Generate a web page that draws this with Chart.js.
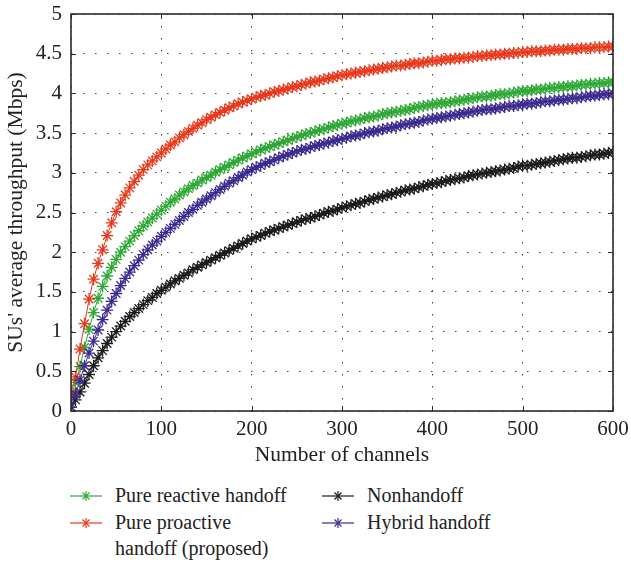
<!DOCTYPE html>
<html>
<head>
<meta charset="utf-8">
<script src="https://cdn.jsdelivr.net/npm/chart.js@4/dist/chart.umd.min.js"></script>
<style>
  html, body { margin: 0; padding: 0; background: #fff; }
  #wrap { position: relative; width: 631px; height: 565px; font-family: "Liberation Serif", "DejaVu Serif", serif; color: #222; }
  #chartBox { position: absolute; left: 0; top: 0; width: 631px; height: 470px; }
  .leg-sym { position: absolute; }
  .leg-text { position: absolute; font-size: 20px; line-height: 26px; white-space: nowrap; }
</style>
</head>
<body>
<div id="wrap">
  <div id="chartBox"><canvas id="chart" width="631" height="470"></canvas></div>
  <div id="legend"></div>
</div>
<script>
// number of channels (x positions of the markers)
const channels = [
  0, 5, 10, 15, 20, 25, 30, 35, 40, 45, 50, 55, 60, 65, 70, 75, 80, 85, 90, 95, 100,
  105, 110, 115, 120, 125, 130, 135, 140, 145, 150, 155, 160, 165, 170, 175, 180, 185, 190, 195, 200,
  205, 210, 215, 220, 225, 230, 235, 240, 245, 250, 255, 260, 265, 270, 275, 280, 285, 290, 295, 300,
  305, 310, 315, 320, 325, 330, 335, 340, 345, 350, 355, 360, 365, 370, 375, 380, 385, 390, 395, 400,
  405, 410, 415, 420, 425, 430, 435, 440, 445, 450, 455, 460, 465, 470, 475, 480, 485, 490, 495, 500,
  505, 510, 515, 520, 525, 530, 535, 540, 545, 550, 555, 560, 565, 570, 575, 580, 585, 590, 595, 600
];

// Pure reactive handoff
const reactive = [
  0.18, 0.36, 0.56, 0.80, 1.03, 1.24, 1.42, 1.57, 1.70, 1.81, 1.91, 2.00, 2.07, 2.14, 2.21, 2.27, 2.33, 2.38, 2.43, 2.48, 2.53,
  2.58, 2.63, 2.67, 2.72, 2.76, 2.80, 2.84, 2.87, 2.91, 2.94, 2.97, 3.01, 3.04, 3.07, 3.10, 3.13, 3.16, 3.19, 3.21, 3.24,
  3.26, 3.29, 3.31, 3.33, 3.35, 3.37, 3.39, 3.41, 3.43, 3.45, 3.47, 3.49, 3.50, 3.52, 3.54, 3.55, 3.57, 3.59, 3.60, 3.62,
  3.63, 3.65, 3.66, 3.67, 3.69, 3.70, 3.71, 3.72, 3.74, 3.75, 3.76, 3.77, 3.78, 3.79, 3.80, 3.82, 3.83, 3.84, 3.85, 3.86,
  3.87, 3.88, 3.88, 3.89, 3.90, 3.91, 3.92, 3.93, 3.94, 3.95, 3.96, 3.96, 3.97, 3.98, 3.99, 3.99, 4.00, 4.01, 4.02, 4.03,
  4.03, 4.04, 4.05, 4.05, 4.06, 4.07, 4.07, 4.08, 4.08, 4.09, 4.09, 4.10, 4.11, 4.11, 4.12, 4.12, 4.13, 4.13, 4.14, 4.14
];

// Pure proactive handoff (proposed)
const proactive = [
  0.22, 0.43, 0.78, 1.10, 1.41, 1.66, 1.86, 2.03, 2.21, 2.37, 2.51, 2.62, 2.72, 2.81, 2.89, 2.97, 3.04, 3.10, 3.15, 3.20, 3.25,
  3.30, 3.35, 3.39, 3.44, 3.48, 3.52, 3.56, 3.60, 3.63, 3.67, 3.70, 3.73, 3.76, 3.79, 3.82, 3.84, 3.87, 3.89, 3.91, 3.93,
  3.95, 3.97, 3.98, 4.00, 4.02, 4.03, 4.05, 4.06, 4.08, 4.09, 4.11, 4.12, 4.14, 4.15, 4.16, 4.18, 4.19, 4.20, 4.22, 4.23,
  4.24, 4.25, 4.26, 4.27, 4.28, 4.29, 4.30, 4.31, 4.32, 4.33, 4.34, 4.35, 4.35, 4.36, 4.37, 4.38, 4.38, 4.39, 4.40, 4.41,
  4.41, 4.42, 4.43, 4.43, 4.44, 4.44, 4.45, 4.45, 4.46, 4.47, 4.47, 4.48, 4.48, 4.49, 4.49, 4.50, 4.50, 4.51, 4.51, 4.52,
  4.52, 4.53, 4.53, 4.53, 4.54, 4.54, 4.55, 4.55, 4.55, 4.56, 4.56, 4.56, 4.57, 4.57, 4.57, 4.58, 4.58, 4.58, 4.59, 4.59
];

// Nonhandoff
const nonhandoff = [
  0.05, 0.14, 0.24, 0.35, 0.46, 0.57, 0.67, 0.76, 0.85, 0.93, 1.00, 1.07, 1.13, 1.19, 1.24, 1.29, 1.34, 1.39, 1.43, 1.48, 1.52,
  1.56, 1.60, 1.64, 1.67, 1.71, 1.74, 1.78, 1.81, 1.84, 1.87, 1.90, 1.93, 1.96, 1.99, 2.02, 2.05, 2.08, 2.11, 2.14, 2.17,
  2.19, 2.21, 2.24, 2.26, 2.28, 2.30, 2.32, 2.34, 2.36, 2.38, 2.40, 2.42, 2.43, 2.45, 2.47, 2.49, 2.51, 2.52, 2.54, 2.56,
  2.58, 2.59, 2.61, 2.62, 2.64, 2.66, 2.67, 2.69, 2.70, 2.72, 2.73, 2.75, 2.76, 2.78, 2.79, 2.80, 2.82, 2.83, 2.85, 2.86,
  2.87, 2.88, 2.90, 2.91, 2.92, 2.93, 2.94, 2.96, 2.97, 2.98, 2.99, 3.00, 3.01, 3.02, 3.03, 3.04, 3.05, 3.06, 3.08, 3.09,
  3.09, 3.10, 3.11, 3.12, 3.13, 3.14, 3.15, 3.16, 3.17, 3.18, 3.19, 3.19, 3.20, 3.21, 3.22, 3.23, 3.23, 3.24, 3.25, 3.26
];

// Hybrid handoff
const hybrid = [
  0.05, 0.21, 0.39, 0.57, 0.73, 0.88, 1.02, 1.15, 1.27, 1.38, 1.48, 1.58, 1.67, 1.75, 1.83, 1.90, 1.97, 2.03, 2.09, 2.14, 2.20,
  2.25, 2.30, 2.35, 2.40, 2.45, 2.50, 2.54, 2.59, 2.63, 2.67, 2.71, 2.75, 2.79, 2.83, 2.87, 2.90, 2.94, 2.97, 3.01, 3.04,
  3.07, 3.09, 3.12, 3.14, 3.16, 3.19, 3.21, 3.23, 3.25, 3.27, 3.29, 3.30, 3.32, 3.34, 3.35, 3.37, 3.38, 3.40, 3.41, 3.43,
  3.44, 3.46, 3.47, 3.48, 3.50, 3.51, 3.52, 3.53, 3.55, 3.56, 3.57, 3.58, 3.60, 3.61, 3.62, 3.63, 3.64, 3.66, 3.67, 3.68,
  3.69, 3.70, 3.71, 3.72, 3.73, 3.74, 3.75, 3.76, 3.77, 3.78, 3.79, 3.80, 3.80, 3.81, 3.82, 3.83, 3.84, 3.84, 3.85, 3.86,
  3.87, 3.87, 3.88, 3.89, 3.90, 3.90, 3.91, 3.92, 3.92, 3.93, 3.94, 3.94, 3.95, 3.96, 3.97, 3.97, 3.98, 3.99, 3.99, 4.00
];

const xTicks = [0, 100, 200, 300, 400, 500, 600];
const yTicks = [0, 0.5, 1, 1.5, 2, 2.5, 3, 3.5, 4, 4.5, 5];

const seriesNames = ['Pure reactive handoff', 'Pure proactive handoff (proposed)', 'Nonhandoff', 'Hybrid handoff'];
const seriesColors = ['#2fa836', '#e8391d', '#1b1b1b', '#3c2a8e'];

const FONT = '"Liberation Serif", "DejaVu Serif", serif';

function toPoints(ys) {
    return channels.map((c, i) => ({ x: c, y: ys[i] }));
}

function makeSet(idx, ys, order) {
    return {
        label: seriesNames[idx],
        data: toPoints(ys),
        borderColor: seriesColors[idx],
        backgroundColor: seriesColors[idx],
        borderWidth: 1,
        pointStyle: 'star',
        pointRadius: 6,
        pointBorderWidth: 1.3,
        pointBorderColor: seriesColors[idx],
        pointHoverRadius: 6,
        fill: false,
        tension: 0,
        order: order
    };
}

// box around plot + inward tick marks (MATLAB look)
const boxPlugin = {
    id: 'boxTicks',
    afterDraw(chart) {
        const { ctx, chartArea: { left, right, top, bottom } } = chart;
        const xs = chart.scales.x, ys = chart.scales.y;
        ctx.save();
        ctx.strokeStyle = '#2b2b2b';
        ctx.lineWidth = 1.6;
        ctx.strokeRect(left, top, right - left, bottom - top);
        ctx.lineWidth = 1;
        ctx.beginPath();
        xTicks.forEach(v => {
            const px = Math.round(xs.getPixelForValue(v)) + 0.5;
            ctx.moveTo(px, bottom); ctx.lineTo(px, bottom - 5);
            ctx.moveTo(px, top); ctx.lineTo(px, top + 5);
        });
        yTicks.forEach(v => {
            const py = Math.round(ys.getPixelForValue(v)) + 0.5;
            ctx.moveTo(left, py); ctx.lineTo(left + 5, py);
            ctx.moveTo(right, py); ctx.lineTo(right - 5, py);
        });
        ctx.stroke();
        ctx.restore();
    }
};

const ctx = document.getElementById('chart').getContext('2d');
const chart = new Chart(ctx, {
    type: 'line',
    data: {
        datasets: [
            makeSet(3, hybrid, 0),
            makeSet(2, nonhandoff, 1),
            makeSet(1, proactive, 2),
            makeSet(0, reactive, 3)
        ]
    },
    options: {
        responsive: false,
        animation: false,
        events: [],
        layout: { padding: { top: 14, right: 18, left: 0, bottom: 0 } },
        plugins: {
            legend: { display: false },
            tooltip: { enabled: false }
        },
        scales: {
            x: {
                type: 'linear',
                min: 0,
                max: 600,
                afterBuildTicks(scale) { scale.ticks = xTicks.map(v => ({ value: v })); },
                afterFit(scale) {
                    scale.height = 59;
                    scale.paddingLeft = 0;
                    scale.paddingRight = 0;
                },
                ticks: {
                    color: '#222',
                    padding: 6,
                    maxRotation: 0,
                    font: { family: FONT, size: 21 },
                    callback: v => String(v)
                },
                grid: {
                    color: '#444',
                    lineWidth: 1,
                    drawTicks: false
                },
                border: { display: false, dash: [1.5, 10.5] },
                title: {
                    display: true,
                    text: 'Number of channels',
                    color: '#222',
                    font: { family: FONT, size: 21.5 },
                    padding: { top: 0, bottom: 2 }
                }
            },
            y: {
                min: 0,
                max: 5,
                afterBuildTicks(scale) { scale.ticks = yTicks.map(v => ({ value: v })); },
                afterFit(scale) {
                    scale.width = 71;
                    scale.paddingTop = 0;
                    scale.paddingBottom = 0;
                },
                ticks: {
                    color: '#222',
                    padding: 9,
                    font: { family: FONT, size: 21 },
                    callback: v => String(v)
                },
                grid: {
                    color: '#444',
                    lineWidth: 1,
                    drawTicks: false
                },
                border: { display: false, dash: [1.5, 10.5] },
                title: {
                    display: true,
                    text: "SUs' average throughput (Mbps)",
                    color: '#222',
                    font: { family: FONT, size: 21.5 },
                    padding: { top: 3, bottom: 0 }
                }
            }
        }
    },
    plugins: [boxPlugin]
});

// legend below the plot, two columns like the original
const legendItems = [
    { idx: 0, lineX: 70, textX: 115, y: 496, lines: ['Pure reactive handoff'] },
    { idx: 1, lineX: 70, textX: 115, y: 523, lines: ['Pure proactive', 'handoff (proposed)'] },
    { idx: 2, lineX: 322, textX: 367, y: 496, lines: ['Nonhandoff'] },
    { idx: 3, lineX: 322, textX: 367, y: 523, lines: ['Hybrid handoff'] }
];

function starSvg(color) {
    const r = 5, d = r * Math.SQRT1_2;
    const cx = 16, cy = 7;
    return `<svg width="32" height="14" xmlns="http://www.w3.org/2000/svg">
      <g stroke="${color}" stroke-width="1.2" fill="none">
        <line x1="0" y1="${cy}" x2="32" y2="${cy}"/>
        <line x1="${cx}" y1="${cy - r}" x2="${cx}" y2="${cy + r}"/>
        <line x1="${cx - d}" y1="${cy - d}" x2="${cx + d}" y2="${cy + d}"/>
        <line x1="${cx - d}" y1="${cy + d}" x2="${cx + d}" y2="${cy - d}"/>
      </g></svg>`;
}

const legendBox = document.getElementById('legend');
legendItems.forEach(item => {
    const sym = document.createElement('div');
    sym.className = 'leg-sym';
    sym.style.left = item.lineX + 'px';
    sym.style.top = (item.y - 7) + 'px';
    sym.innerHTML = starSvg(seriesColors[item.idx]);
    legendBox.appendChild(sym);

    const txt = document.createElement('div');
    txt.className = 'leg-text';
    txt.style.left = item.textX + 'px';
    txt.style.top = (item.y - 14) + 'px';
    txt.innerHTML = item.lines.join('<br>');
    legendBox.appendChild(txt);
});
</script>
</body>
</html>
